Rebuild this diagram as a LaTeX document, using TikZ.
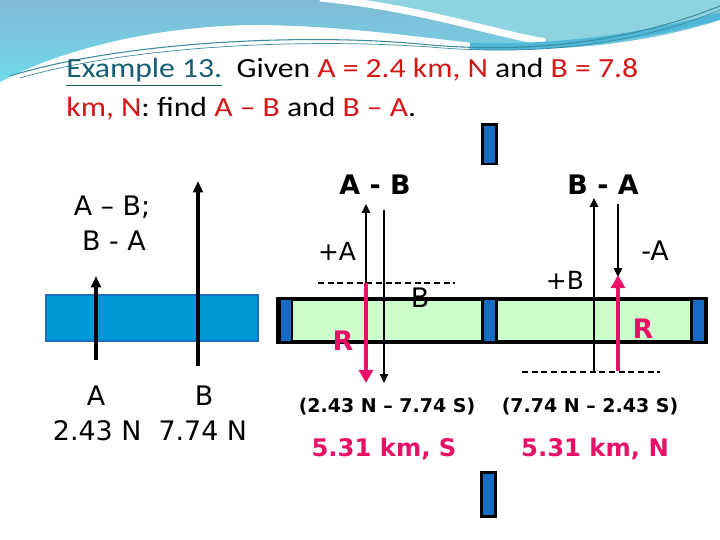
\documentclass[tikz,border=0pt]{standalone}
\usepackage{fontspec}
\setmainfont{DejaVu Sans}
\newfontfamily\titlefont[FakeStretch=1.14]{Carlito}
\usetikzlibrary{arrows.meta}

\definecolor{hdrblue}{RGB}{128,186,212}
\definecolor{hdrcyan}{RGB}{112,218,236}
\definecolor{hdrteal}{RGB}{142,212,224}
\definecolor{hdrdeep}{RGB}{78,182,214}
\definecolor{hdrline}{RGB}{60,140,160}
\definecolor{titleteal}{RGB}{23,94,116}
\definecolor{titlered}{RGB}{212,24,24}
\definecolor{magR}{RGB}{231,18,104}
\definecolor{barblue}{RGB}{0,152,214}
\definecolor{baredge}{RGB}{30,110,190}
\definecolor{capblue}{RGB}{22,108,196}
\definecolor{stripgreen}{RGB}{204,255,204}

\newcommand\redtxt[1]{\textcolor{titlered}{#1}}

\begin{document}
\begin{tikzpicture}[x=0.02cm,y=-0.02cm,
    lbl/.style={inner sep=0pt,anchor=base,font=\fontsize{15.3}{18}\selectfont},
    smalllbl/.style={inner sep=0pt,anchor=base,font=\fontsize{14.2}{17}\selectfont},
    headlbl/.style={inner sep=0pt,anchor=base,font=\bfseries\fontsize{15.3}{18}\selectfont},
    sumlbl/.style={inner sep=0pt,anchor=base,font=\bfseries\fontsize{10.8}{13}\selectfont},
    reslbl/.style={inner sep=0pt,anchor=base,text=magR,font=\bfseries\fontsize{13.8}{16}\selectfont},
    rlbl/.style={inner sep=0pt,anchor=base,text=magR,font=\bfseries\fontsize{15.3}{18}\selectfont},
    titlelbl/.style={inner sep=0pt,anchor=base west,font=\titlefont\fontsize{15.8}{18}\selectfont},
    bigvec/.style={line width=2.1pt,-{Triangle[length=6.5pt,width=5.5pt]}},
    vec/.style={line width=1.5pt,-{Triangle[length=5pt,width=4.5pt]}},
    rvec/.style={magR,line width=2.8pt,-{Triangle[length=7.5pt,width=8pt]}},
    sepbar/.style={draw=black,line width=1.7pt,fill=capblue},
    zeroline/.style={line width=1.1pt,dash pattern=on 3.5pt off 2pt}]

    \useasboundingbox (0,0) rectangle (720,540);
    \fill[white] (0,0) rectangle (720,540);

    % header swoosh
    \shade[top color=hdrblue,bottom color=hdrcyan]
        (0,0) -- (720,0) -- (720,20)
        .. controls (690,30) and (630,45) .. (560,48)
        .. controls (480,50) and (380,25) .. (250,25)
        .. controls (150,27) and (60,50) .. (0,82) -- cycle;
    \fill[hdrteal] (330,0) .. controls (420,10) and (480,30) .. (545,42)
        .. controls (620,42) and (690,25) .. (720,12) -- (720,0) -- cycle;
    \draw[white,line width=4pt] (320,-2) .. controls (420,8) and (480,30) .. (545,42);
    \draw[hdrdeep,line width=4pt] (470,46) .. controls (560,50) and (650,35) .. (720,16);
    \draw[hdrline,line width=0.6pt] (10,76) .. controls (120,42) and (300,33) .. (420,44)
        .. controls (500,52) and (610,50) .. (720,6);
    \draw[hdrline,line width=0.4pt] (20,78) .. controls (130,46) and (300,38) .. (430,47)
        .. controls (510,54) and (620,52) .. (720,10);

    % title
    \node[titlelbl] (titleA) at (66,78)
        {\textcolor{titleteal}{\underline{Example 13.}}\ \ Given \redtxt{A = 2.4 km, N} and \redtxt{B = 7.8}};
    \node[titlelbl] (titleB) at (66,117)
        {\redtxt{km, N}: find \redtxt{A – B} and \redtxt{B – A}.};

    % left: the two vectors
    \draw[baredge,line width=1.2pt,fill=barblue] (46,295) rectangle (258,341);
    \coordinate (aTail) at (96,360);
    \coordinate (aHead) at (96,276);
    \coordinate (bTail) at (198,366);
    \coordinate (bHead) at (198,181);
    \draw[bigvec] (aTail) -- (aHead);
    \draw[bigvec] (bTail) -- (bHead);
    \node[lbl] (askAB) at (112,216) {A – B;};
    \node[lbl] (askBA) at (114,251) {B - A};
    \node[lbl] (nameA) at (96,405) {A};
    \node[lbl] (nameB) at (204,405) {B};
    \node[lbl] (values) at (150,440) {2.43 N\ \ 7.74 N};

    % green strip and separators
    \draw[line width=2.3pt,fill=stripgreen] (278,299) rectangle (706,342);
    \draw[sepbar] (279.5,299) rectangle (292,342);
    \draw[sepbar] (482.5,299) rectangle (496.5,342);
    \draw[sepbar] (691.5,299) rectangle (705.5,342);
    \draw[sepbar] (482.5,124.5) rectangle (496.5,164);
    \draw[sepbar] (481.5,472.5) rectangle (495.5,516.5);

    % A - B
    \node[headlbl] (headAB) at (375,195) {A - B};
    \coordinate (abStart) at (366,283);
    \coordinate (abA) at (366,204);
    \coordinate (abBtail) at (384,210);
    \coordinate (abBhead) at (384,383);
    \coordinate (abR) at (366,383);
    \coordinate (abZeroL) at (318,283);
    \coordinate (abZeroR) at (455,283);
    \draw[zeroline] (abZeroL) -- (abZeroR);
    \draw[vec] (abStart) -- (abA);
    \draw[vec] (abBtail) -- (abBhead);
    \draw[rvec] (abStart) -- (abR);
    \node[smalllbl] (plusA) at (337,261) {+A};
    \node[lbl] (subB) at (420,308) {B};
    \node[rlbl] (resAB) at (343,351) {R};

    % B - A
    \node[headlbl] (headBA) at (603,195) {B - A};
    \coordinate (baStart) at (594,371);
    \coordinate (baB) at (594,198);
    \coordinate (baAtail) at (618,204);
    \coordinate (baAhead) at (618,277);
    \coordinate (baRtail) at (618,371);
    \coordinate (baR) at (618,275);
    \coordinate (baZeroL) at (522,372);
    \coordinate (baZeroR) at (660,372);
    \draw[zeroline] (baZeroL) -- (baZeroR);
    \draw[vec] (baStart) -- (baB);
    \draw[vec] (baAtail) -- (baAhead);
    \draw[rvec] (baRtail) -- (baR);
    \node[smalllbl] (plusB) at (565,290) {+B};
    \node[lbl] (minusA) at (655,261) {-A};
    \node[rlbl] (resBA) at (643,339) {R};

    % results
    \node[sumlbl] (sumAB) at (387,413) {(2.43 N – 7.74 S)};
    \node[sumlbl] (sumBA) at (590,413) {(7.74 N – 2.43 S)};
    \node[reslbl] (ansAB) at (384,457) {5.31 km, S};
    \node[reslbl] (ansBA) at (595,457) {5.31 km, N};

\end{tikzpicture}
\end{document}
